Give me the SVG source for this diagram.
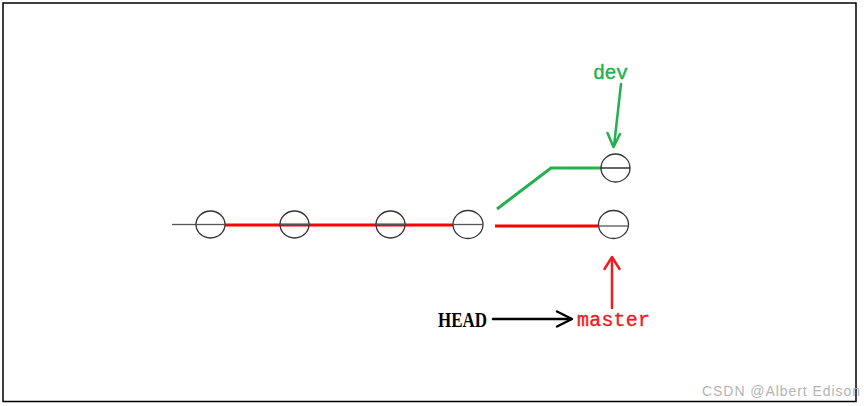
<svg xmlns="http://www.w3.org/2000/svg" width="864" height="406" viewBox="0 0 864 406">
<style>
.commit{fill:none;stroke:#333;stroke-width:1.3}
.chord{stroke:#555;stroke-width:1.3}
.red{stroke:#ff0000;stroke-width:3;fill:none}
.green{stroke:#22b14c;stroke-width:3;fill:none}
.arr{fill:none;stroke-width:2.5;stroke-linecap:round;stroke-linejoin:round}
.mono{font-family:"Liberation Mono","DejaVu Sans Mono",monospace;font-size:20px;stroke-width:0.4}
</style>
<rect x="0" y="0" width="864" height="406" fill="#fff"/>
<rect x="3" y="3" width="853" height="398.5" fill="none" stroke="#000" stroke-width="1.5"/>
<g id="connectors">
<line x1="172" y1="224.5" x2="196" y2="224.5" stroke="#555" stroke-width="1.3"/>
<line class="red" x1="225" y1="225" x2="453" y2="225"/>
<line class="red" x1="495" y1="226" x2="598" y2="226"/>
<polyline class="green" points="497,209 551,168 601,168"/>
<g id="arrow-dev" class="arr" stroke="#22b14c">
<line x1="621" y1="84" x2="614" y2="146"/>
<polyline points="607.5,133 613.5,147 620,134"/>
</g>
<g id="arrow-head" class="arr" stroke="#000">
<line x1="493" y1="319" x2="571" y2="319"/>
<polyline points="557,311.5 572,319 557,326.5"/>
</g>
<g id="arrow-master" class="arr" stroke="#ee1c24">
<line x1="612" y1="308" x2="612" y2="258"/>
<polyline points="604.5,269 612,257 619.5,269"/>
</g>
</g>
<g id="c1"><ellipse class="commit" cx="210.5" cy="224.5" rx="14.5" ry="13.5"/><line class="chord" x1="196" y1="224.5" x2="225" y2="224.5"/></g>
<g id="c2"><ellipse class="commit" cx="294.5" cy="224.5" rx="14.5" ry="13.5"/><line class="chord" x1="280" y1="224.5" x2="309" y2="224.5"/></g>
<g id="c3"><ellipse class="commit" cx="390.5" cy="224.5" rx="14.5" ry="13.5"/><line class="chord" x1="376" y1="224.5" x2="405" y2="224.5"/></g>
<g id="c4"><ellipse class="commit" cx="468" cy="224.5" rx="15" ry="14"/><line class="chord" x1="453" y1="224.5" x2="483" y2="224.5"/></g>
<g id="c5"><ellipse class="commit" cx="615.5" cy="168" rx="14.5" ry="14"/><line x1="601" y1="168" x2="630" y2="168" stroke="#111" stroke-width="1.3"/></g>
<g id="c6"><ellipse class="commit" cx="613.5" cy="224.5" rx="15" ry="14"/><line class="chord" x1="598" y1="226" x2="628.5" y2="226"/></g>
<g id="label-dev"><text class="mono" x="593" y="79" fill="#22b14c" stroke="#22b14c" textLength="35">dev</text></g>
<g id="label-master"><text class="mono" x="577" y="326" fill="#ee1c24" stroke="#ee1c24" textLength="73">master</text></g>
<g id="label-head"><text x="438" y="327" font-family="Liberation Serif, serif" font-size="21" font-weight="bold" fill="#000" textLength="49" lengthAdjust="spacingAndGlyphs">HEAD</text></g>
<text x="702" y="396" font-family="Liberation Sans, Arial, sans-serif" font-size="14" fill="#b4b4b4" textLength="158">CSDN @Albert Edison</text>
</svg>
